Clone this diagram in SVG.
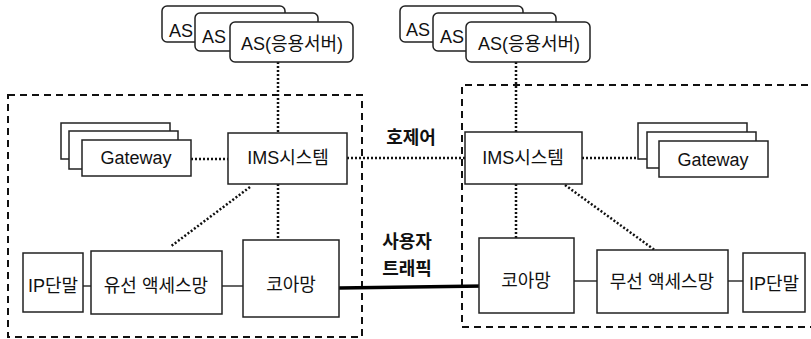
<svg xmlns="http://www.w3.org/2000/svg" width="811" height="339" viewBox="0 0 811 339">
<style>
.box{fill:#fff;stroke:#222;stroke-width:1.5}
.as{fill:#fff;stroke:#222;stroke-width:1.5}
.t{font-family:"Liberation Sans","Noto Sans CJK KR",sans-serif;font-size:18px;fill:#111;text-anchor:middle;dominant-baseline:central}
.b{font-family:"Noto Sans CJK KR","Liberation Sans",sans-serif;font-size:18px;font-weight:bold;fill:#111;text-anchor:middle;dominant-baseline:central}
.dash{fill:none;stroke:#111;stroke-width:2;stroke-dasharray:7,5}
.dot{fill:none;stroke:#111;stroke-width:2.5;stroke-dasharray:2,2}
.thin{stroke:#111;stroke-width:1.3}
.thick{stroke:#000;stroke-width:3.5}
</style>
<g id="domain-left"><rect class="dash" x="8" y="95" width="354" height="242"/></g>
<g id="domain-right"><path class="dash" d="M820 85 H462 V327 H820"/></g>
<g id="connectors">
<line class="dot" x1="278" y1="62" x2="278" y2="133"/>
<line class="dot" x1="516" y1="62" x2="516" y2="132"/>
<line class="dot" x1="191" y1="159" x2="228" y2="159"/>
<line class="dot" x1="347" y1="158" x2="465" y2="158"/>
<line class="dot" x1="582" y1="158" x2="640" y2="158"/>
<line class="dot" x1="278" y1="184" x2="278" y2="240"/>
<line class="dot" x1="250" y1="187" x2="170" y2="247"/>
<line class="dot" x1="516" y1="184" x2="516" y2="238"/>
<line class="dot" x1="565" y1="185" x2="656" y2="251"/>
<line class="thin" x1="83" y1="286" x2="91" y2="286"/>
<line class="thin" x1="222" y1="286" x2="243" y2="286"/>
<line class="thin" x1="574" y1="281" x2="597" y2="281"/>
<line class="thin" x1="728" y1="281" x2="743" y2="281"/>
<line class="thick" x1="339" y1="288" x2="484" y2="286"/>
</g>
<g id="as-left">
<rect class="as" x="162" y="6" width="123" height="36" rx="5"/>
<text class="t" x="181" y="31">AS</text>
<rect class="as" x="195" y="13" width="123" height="38" rx="5"/>
<text class="t" x="214" y="37">AS</text>
<rect class="as" x="230" y="22" width="123" height="40" rx="5"/>
<text class="t" x="292" y="44">AS(응용서버)</text>
</g>
<g id="as-right">
<rect class="as" x="400" y="6" width="123" height="36" rx="5"/>
<text class="t" x="418" y="30">AS</text>
<rect class="as" x="433" y="13" width="123" height="38" rx="5"/>
<text class="t" x="452" y="37">AS</text>
<rect class="as" x="466" y="22" width="124" height="40" rx="5"/>
<text class="t" x="529" y="44">AS(응용서버)</text>
</g>
<g id="gateway-left">
<rect class="box" x="61" y="123" width="109" height="36"/>
<rect class="box" x="69" y="131" width="109" height="38"/>
<rect class="box" x="82" y="140" width="109" height="36"/>
<text class="t" x="136" y="158">Gateway</text>
</g>
<g id="ims-left"><rect class="box" x="228" y="133" width="119" height="51"/><text class="t" x="288" y="158">IMS시스템</text></g>
<g id="ims-right"><rect class="box" x="465" y="132" width="117" height="52"/><text class="t" x="523" y="158">IMS시스템</text></g>
<g id="gateway-right">
<rect class="box" x="638" y="123" width="109" height="36"/>
<rect class="box" x="647" y="132" width="109" height="36"/>
<rect class="box" x="659" y="141" width="109" height="36"/>
<text class="t" x="713" y="160">Gateway</text>
</g>
<g id="ip-left"><rect class="box" x="23" y="253" width="60" height="59"/><text class="t" x="53" y="286">IP단말</text></g>
<g id="wired-access"><rect class="box" x="91" y="251" width="131" height="63"/><text class="t" x="156" y="286">유선 액세스망</text></g>
<g id="core-left"><rect class="box" x="243" y="240" width="96" height="77"/><text class="t" x="291" y="285">코아망</text></g>
<g id="core-right"><rect class="box" x="479" y="238" width="95" height="75"/><text class="t" x="526" y="281">코아망</text></g>
<g id="wireless-access"><rect class="box" x="597" y="250" width="131" height="63"/><text class="t" x="662" y="282">무선 액세스망</text></g>
<g id="ip-right"><rect class="box" x="743" y="253" width="62" height="59"/><text class="t" x="774" y="284">IP단말</text></g>
<g id="labels">
<text class="b" x="411" y="136">호제어</text>
<text class="b" x="407" y="240">사용자</text>
<text class="b" x="407" y="267">트래픽</text>
</g>
</svg>
